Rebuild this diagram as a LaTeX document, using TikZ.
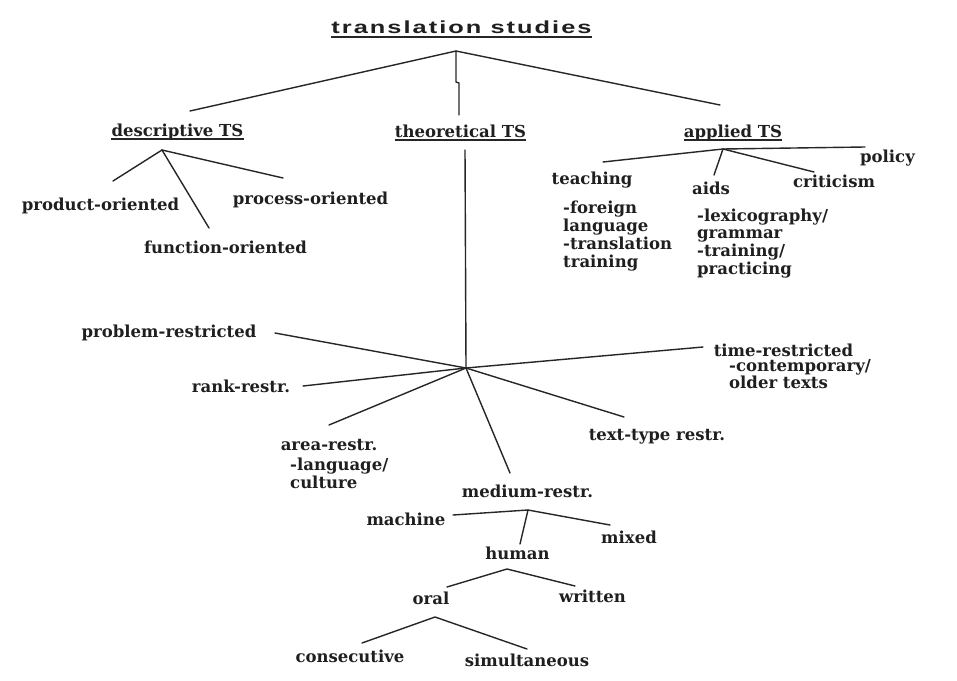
\documentclass[tikz,border=0pt]{standalone}
\usepackage{graphicx}
\usepackage{fontspec}
\setmainfont{DejaVu Serif}
\newfontfamily\titlefont[LetterSpace=8]{Liberation Sans}
\tikzset{
  lbl/.style={inner sep=0pt, anchor=base, text=black!88,
    font=\bfseries\fontsize{16.5}{18}\selectfont},
  sublist/.style={lbl, anchor=north west, align=left},
  ln/.style={line width=1.4pt, draw=black!85, line cap=round, line join=round},
  uline/.style={line width=1.1pt, draw=black!85},
}
\begin{document}
\begin{tikzpicture}[x=1pt,y=-1pt]
\fill[white] (0,0) rectangle (957,680);
\useasboundingbox (0,0) rectangle (957,680);

% ---- title
\node[lbl, font=\titlefont\bfseries\fontsize{17.5}{20}\selectfont] (title) at (461.5,33) {\scalebox{1.45}[1]{translation studies}};
\draw[uline, line width=1.5pt] ([yshift=-4pt]title.base west) -- ([yshift=-4pt]title.base east);

% ---- main branches
\node[lbl] (desc) at (177.5,136) {descriptive TS};
\node[lbl] (theo) at (460.5,137) {theoretical TS};
\node[lbl] (appl) at (733,137) {applied TS};
\foreach \n in {desc,theo,appl}
  \draw[uline] ([yshift=-3pt]\n.base west) -- ([yshift=-3pt]\n.base east);

\coordinate (T) at (456,51);
\coordinate (Tl) at (190,111);
\coordinate (Tr) at (720,105);
\coordinate (Tv) at (459,115);
\draw[ln] (Tl) -- (T) -- (Tr);
\draw[ln] (T) -- (456,82) -- (459,83) -- (Tv);

% ---- descriptive
\node[lbl] (prod) at (100.5,210) {product-oriented};
\node[lbl] (proc) at (310.5,204) {process-oriented};
\node[lbl] (func) at (225.5,253) {function-oriented};
\coordinate (D) at (162,150);
\coordinate (D1) at (113,181);
\coordinate (D2) at (209,228);
\coordinate (D3) at (283,178);
\draw[ln] (D) -- (D1);
\draw[ln] (D) -- (D2);
\draw[ln] (D) -- (D3);

% ---- applied
\node[lbl] (policy) at (887.5,162) {policy};
\node[lbl] (teach) at (592,184) {teaching};
\node[lbl] (aids) at (711,194) {aids};
\node[lbl] (crit) at (834,187) {criticism};
\node[sublist] (teachsub) at (563,200.5)
  {-foreign\\language\\-translation\\training};
\node[sublist, font=\bfseries\fontsize{16.5}{17.7}\selectfont] (aidssub) at (697,208.5)
  {-lexicography/\\grammar\\-training/\\practicing};
\coordinate (A) at (723,149);
\coordinate (A0) at (603,162);
\coordinate (Ap) at (865,147);
\coordinate (A2) at (714,175);
\coordinate (A3) at (814,172);
\draw[ln] (A0) -- (A) -- (Ap);
\draw[ln] (A) -- (A2);
\draw[ln] (A) -- (A3);

% ---- theoretical
\coordinate (Th) at (465,150);
\coordinate (H) at (466,368);
\draw[ln] (Th) -- (H);
\node[lbl] (prob) at (169,337) {problem-restricted};
\node[lbl] (rank) at (241,392) {rank-restr.};
\node[lbl] (area) at (329,450) {area-restr.};
\node[sublist] (areasub) at (290,457.5) {-language/\\culture};
\node[lbl] (time) at (783.5,356) {time-restricted};
\node[sublist, font=\bfseries\fontsize{16.5}{17}\selectfont] (timesub) at (729,359.5) {-contemporary/\\older texts};
\node[lbl] (ttype) at (657,440) {text-type restr.};
\node[lbl] (medium) at (527.5,497) {medium-restr.};
\coordinate (Hp) at (275,333);
\coordinate (Ht) at (703,347);
\coordinate (Hr) at (303,386);
\coordinate (Ha) at (329,425);
\coordinate (Hx) at (624,417);
\coordinate (Hm) at (510,473);
\foreach \e in {Hp,Ht,Hr,Ha,Hx,Hm}
  \draw[ln] (H) -- (\e);

% ---- medium
\node[lbl] (machine) at (406,525) {machine};
\node[lbl] (mixed) at (629,543) {mixed};
\node[lbl] (human) at (517.5,559) {human};
\coordinate (M) at (528,510);
\coordinate (Mm) at (453,515);
\coordinate (Mx) at (610,525);
\coordinate (Mh) at (520,544);
\draw[ln] (Mm) -- (M) -- (Mx);
\draw[ln] (M) -- (Mh);

% ---- human
\node[lbl] (oral) at (431,604) {oral};
\node[lbl] (written) at (592.5,602) {written};
\coordinate (Hu) at (507,569);
\coordinate (Huo) at (447,587);
\coordinate (Huw) at (575,586);
\draw[ln] (Huo) -- (Hu) -- (Huw);

% ---- oral
\node[lbl] (cons) at (350,662) {consecutive};
\node[lbl] (simul) at (527,666) {simultaneous};
\coordinate (O) at (435,617);
\coordinate (Oc) at (362,643);
\coordinate (Os) at (527,649);
\draw[ln] (Oc) -- (O) -- (Os);
\end{tikzpicture}
\end{document}
